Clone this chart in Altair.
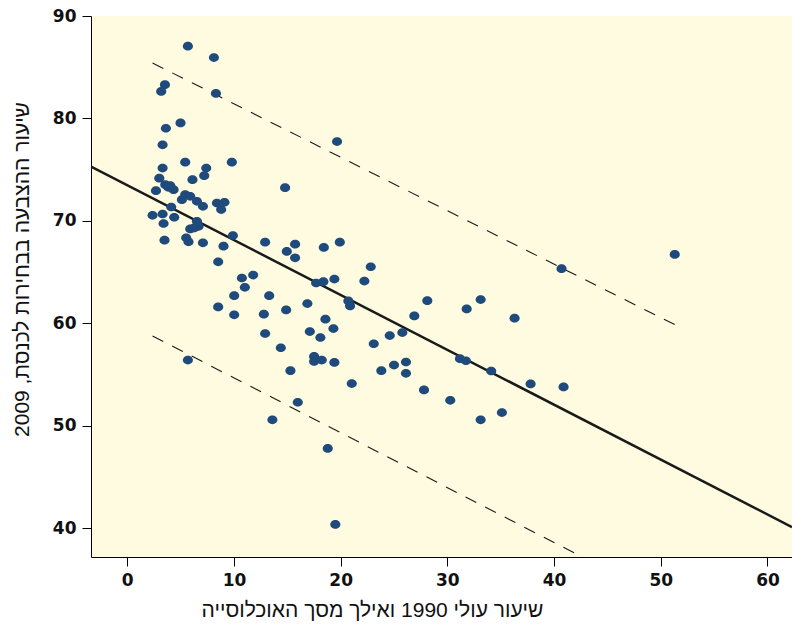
import altair as alt
import pandas as pd

# --- data ---
xs = [5.68, 8.12, 3.53, 3.18, 8.31, 4.99, 3.62, 3.31, 19.66, 3.31,
      5.43, 9.80, 7.40, 7.21, 3.00, 6.11, 14.79, 2.69, 3.56, 4.03,
      4.34, 3.84, 5.43, 5.90, 5.12, 6.53, 7.09, 8.40, 9.11, 8.80,
      4.12, 2.37, 3.31, 4.40, 3.40, 6.53, 6.68, 5.90, 6.27, 9.90,
      3.49, 5.52, 5.74, 7.09, 9.02, 12.92, 14.95, 8.52, 10.74, 11.80,
      11.02, 10.02, 13.30, 8.52, 10.02, 12.80, 14.89, 12.92, 14.39, 5.68,
      15.73, 15.73, 18.42, 19.92, 22.82, 22.22, 19.41, 17.70, 18.38, 20.72,
      20.88, 26.90, 25.78, 24.60, 23.10, 16.88, 18.57, 19.32, 17.11, 18.10,
      17.51, 17.51, 18.23, 19.41, 15.29, 23.81, 25.00, 26.12, 26.12, 21.04,
      15.98, 13.60, 18.79, 19.50, 40.70, 28.12, 33.12, 31.81, 36.30, 31.18,
      31.74, 34.11, 37.80, 40.89, 27.81, 30.27, 33.12, 35.11, 51.31]
ys = [87.05, 85.94, 83.29, 82.64, 82.44, 79.56, 79.04, 77.42, 77.74, 75.15,
      75.73, 75.73, 75.15, 74.41, 74.17, 74.02, 73.24, 72.95, 73.53, 73.43,
      73.04, 73.27, 72.56, 72.39, 72.07, 71.91, 71.42, 71.74, 71.81, 71.10,
      71.35, 70.54, 70.67, 70.35, 69.74, 69.96, 69.47, 69.21, 69.31, 68.57,
      68.11, 68.34, 67.95, 67.85, 67.53, 67.92, 67.01, 66.00, 64.42, 64.71,
      63.51, 62.69, 62.69, 61.60, 60.82, 60.89, 61.30, 59.00, 57.61, 56.41,
      67.72, 66.39, 67.40, 67.92, 65.52, 64.12, 64.32, 63.93, 64.06, 62.18,
      61.69, 60.72, 59.09, 58.80, 58.00, 61.92, 60.40, 59.48, 59.19, 58.61,
      56.76, 56.27, 56.41, 56.18, 55.37, 55.37, 55.92, 56.22, 55.11, 54.11,
      52.29, 50.57, 47.78, 40.36, 65.33, 62.21, 62.31, 61.40, 60.50, 56.54,
      56.34, 55.34, 54.08, 53.78, 53.49, 52.48, 50.57, 51.28, 66.72]

# fitted line and prediction band end points
fit_x = [-3.4, 62.3]
fit_y = [75.3, 40.1]
upper_x = [2.37, 51.38]
upper_y = [85.41, 59.83]
lower_x = [2.37, 51.38]
lower_y = [58.76, 32.5]

x_ticks = [0, 10, 20, 30, 40, 50, 60]
y_ticks = [40, 50, 60, 70, 80, 90]

x_title = "שיעור עולי 1990 ואילך מסך האוכלוסייה"
y_title = "שיעור ההצבעה בבחירות לכנסת, 2009"

pts = pd.DataFrame({"x": xs, "y": ys})
fit = pd.DataFrame({"x": fit_x, "y": fit_y})
band = pd.DataFrame({
    "x": upper_x + lower_x,
    "y": upper_y + lower_y,
    "b": ["upper", "upper", "lower", "lower"],
})

xscale = alt.Scale(domain=[-3.4, 62.3], nice=False, zero=False)
yscale = alt.Scale(domain=[37.18, 90.0], nice=False, zero=False)

xaxis = alt.Axis(values=x_ticks, title=x_title, grid=False,
                 titleX=281, titleY=53, titleBaseline="middle",
                 titleFontSize=21,
                 titleFont="Liberation Sans", titleFontWeight="normal",
                 titleColor="#111", labelFont="DejaVu Sans",
                 labelFontWeight="bold", labelFontSize=17, labelColor="#111",
                 labelPadding=6,
                 tickSize=9, tickColor="#000", domainColor="#000")
yaxis = alt.Axis(values=y_ticks, title=y_title, grid=False,
                 titleY=253, titleFontSize=21,
                 titleFont="Liberation Sans", titleFontWeight="normal",
                 titleColor="#111", titlePadding=20, labelFont="DejaVu Sans",
                 labelFontWeight="bold", labelFontSize=17, labelColor="#111",
                 labelPadding=6,
                 tickSize=9, tickColor="#000", domainColor="#000")

x_enc = alt.X("x:Q", scale=xscale, axis=xaxis)
y_enc = alt.Y("y:Q", scale=yscale, axis=yaxis)

points = alt.Chart(pts).mark_point(
    filled=True, opacity=1, color="#1F4A7C", size=84,
    shape="M-1.1,0A1.1,0.95 0 1,0 1.1,0A1.1,0.95 0 1,0 -1.1,0Z",
).encode(x=x_enc, y=y_enc)

fit_line = alt.Chart(fit).mark_line(
    color="#1a1a1a", strokeWidth=2.5, clip=True
).encode(x=alt.X("x:Q", scale=xscale), y=alt.Y("y:Q", scale=yscale))

band_lines = alt.Chart(band).mark_line(
    color="#1a1a1a", strokeWidth=1.1, strokeDash=[12, 10], clip=True
).encode(x=alt.X("x:Q", scale=xscale), y=alt.Y("y:Q", scale=yscale),
         detail="b:N")

chart = alt.layer(band_lines, fit_line, points).properties(
    width=701, height=541,
    background="#ffffff",
    view=alt.ViewBackground(fill="#FEFBE1", strokeWidth=0),
    autosize=alt.AutoSizeParams(type="none"),
    padding={"left": 83, "top": 8, "right": 0, "bottom": 64},
)

chart.save("out.html", embed_options={"renderer": "svg", "actions": False})
